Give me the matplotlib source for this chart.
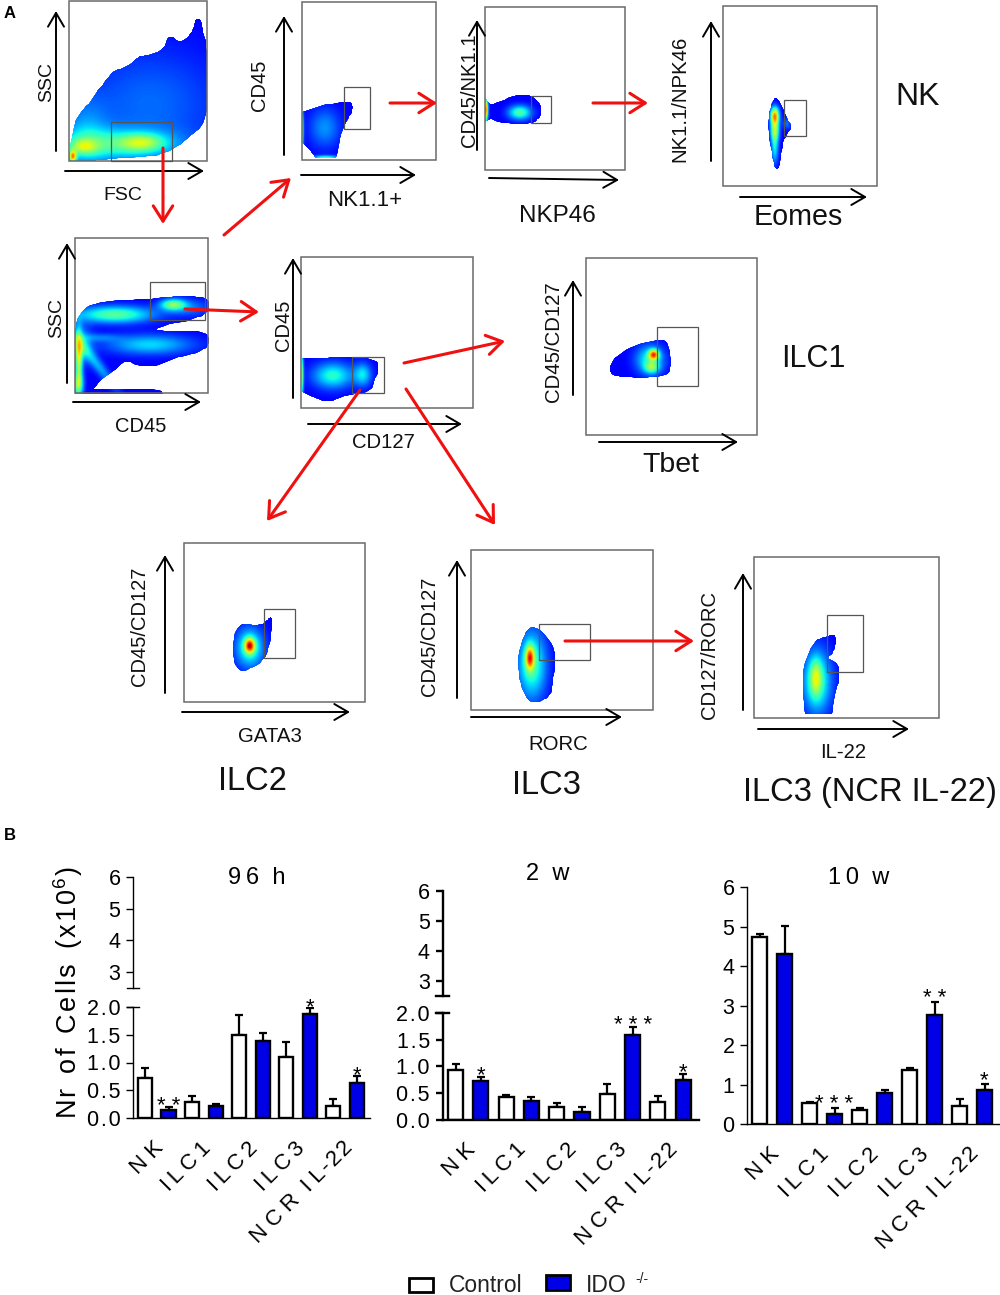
import numpy as np
import matplotlib
matplotlib.use("Agg")
import matplotlib.pyplot as plt
from matplotlib.patches import Polygon, Rectangle
from matplotlib.transforms import offset_copy

plt.rcParams['font.family'] = ['Liberation Sans', 'DejaVu Sans']
plt.rcParams['mathtext.default'] = 'regular'

W, H = 1000, 1295
BLUE = '#0000e6'
RED = '#f01010'
TS = '\u2009'
HS = '\u200a'

# bar data, panel B
groups = ['N K', f'I{TS}L{TS}C{TS}1', f'I{TS}L{TS}C{TS}2', f'I{TS}L{TS}C{TS}3', f'N C R  I L{HS}-{HS}2{HS}2']

ctrl_96h = [0.72, 0.29, 1.49, 1.10, 0.22]
ctrl_96h_sem = [0.18, 0.10, 0.37, 0.27, 0.12]
ido_96h = [0.15, 0.22, 1.38, 1.87, 0.63]
ido_96h_sem = [0.04, 0.04, 0.16, 0.11, 0.13]
stars_96h = [(1, '* *'), (7, '*'), (9, '*')]

ctrl_2w = [0.93, 0.43, 0.23, 0.48, 0.33]
ctrl_2w_sem = [0.11, 0.03, 0.08, 0.18, 0.12]
ido_2w = [0.72, 0.35, 0.14, 1.58, 0.75]
ido_2w_sem = [0.08, 0.07, 0.09, 0.15, 0.11]
stars_2w = [(1, '*'), (7, '* * *'), (9, '*')]

ctrl_10w = [4.73, 0.54, 0.35, 1.37, 0.46]
ctrl_10w_sem = [0.08, 0.03, 0.05, 0.04, 0.17]
ido_10w = [4.32, 0.26, 0.79, 2.77, 0.87]
ido_10w_sem = [0.71, 0.15, 0.06, 0.31, 0.14]
stars_10w = [(3, '* * *'), (7, '* *'), (9, '*')]

# flow plots, panel A: frame and gate as left, top, right, bottom in pixels
frames = [(69, 1, 207, 161), (302, 2, 436, 160), (485, 7, 625, 170), (723, 6, 877, 186),
          (75, 238, 208, 393), (301, 257, 473, 408), (586, 258, 757, 435),
          (184, 543, 365, 702), (471, 550, 653, 710), (754, 557, 939, 718)]
gates = [(111, 122, 172, 161), (344, 87, 370, 129), (531, 96, 551, 123), (784, 100, 806, 136),
         (150, 282, 205, 320), (352, 357, 384, 393), (657, 327, 698, 386),
         (264, 609, 295, 658), (539, 624, 590, 660), (827, 615, 863, 672)]

# outline of each population and its density peaks (x, y, sx, sy, level, angle)
blobs = [
    ([(69, 161), (69, 161), (70, 145), (74, 125), (80, 112), (90, 103), (98, 90), (103, 85), (112, 72), (120, 69),
      (128, 66), (138, 58), (140, 56), (150, 55), (163, 50), (168, 38), (172, 36), (178, 42), (188, 38),
      (194, 28), (195, 20), (198, 18), (202, 22), (203, 35), (207, 45), (207, 115), (200, 128), (190, 136),
      (175, 148), (165, 153), (145, 157), (120, 158), (100, 160), (90, 161)],
     [(73, 157, 2.5, 4, 0.5, 0), (84, 147, 9, 5, 0.2, 0), (142, 143, 15, 6, 0.24, 0), (115, 145, 44, 11, 0.24, 0),
      (150, 105, 50, 40, 0.11, 0), (85, 135, 16, 25, 0.13, 0)]),
    ([(302, 112), (302, 112), (313, 108), (325, 105), (345, 101), (352, 103), (353, 110), (347, 120), (340, 135),
      (336, 158), (336, 158), (316, 158), (316, 158), (310, 150), (302, 142), (302, 142)],
     [(325, 128, 11, 14, 0.15, 0), (302, 130, 1.2, 16, 0.4, 0), (326, 158, 9, 1.5, 0.3, 0)]),
    ([(485, 98), (485, 98), (490, 105), (500, 102), (513, 96), (527, 94), (535, 99), (541, 105), (541, 115), (535, 122),
      (525, 124), (500, 123), (490, 118), (485, 122), (485, 122)],
     [(520, 113, 8, 5, 0.33, 0), (486, 110, 1.5, 8, 0.7, 0)]),
    ([(775, 96), (768, 115), (769, 140), (773, 158), (775, 169), (779, 169), (780, 160), (783, 142), (786, 135),
      (792, 127), (786, 117), (783, 108), (778, 100)],
     [(775, 116, 3, 6, 0.6, 0), (775, 131, 3, 8, 0.42, 0), (775, 150, 2.5, 10, 0.22, 0), (787, 124, 3, 4, 0.12, 0)]),
    ([(75, 394), (75, 394), (75, 325), (80, 313), (90, 305), (105, 301), (150, 299), (175, 296), (195, 296), (209, 299),
      (209, 313), (190, 320), (165, 325), (153, 330), (170, 331), (200, 331), (209, 335), (209, 345), (200, 352),
      (175, 358), (155, 366), (140, 366), (125, 360), (115, 370), (100, 380), (94, 389), (94, 389), (160, 389),
      (163, 394), (163, 394)],
     [(115, 315, 27, 6, 0.34, 0), (173, 305, 9, 4, 0.35, 0), (150, 345, 30, 7, 0.22, 0), (190, 308, 15, 6, 0.12, 0),
      (79, 360, 2.5, 20, 0.4, 0), (80, 345, 8, 13, 0.2, 0), (78, 385, 4, 8, 0.3, 0),
      (95, 362, 24, 4, 0.18, -52), (100, 338, 14, 3, 0.1, 0)]),
    ([(302, 358), (302, 358), (320, 358), (340, 357), (360, 357), (375, 360), (379, 366), (375, 380), (370, 392),
      (345, 395), (330, 402), (320, 400), (310, 395), (302, 392), (302, 392)],
     [(333, 376, 14, 9, 0.28, 0), (363, 375, 6, 8, 0.22, 0), (302, 375, 1.2, 16, 0.4, 0)]),
    ([(609, 368), (613, 360), (627, 348), (647, 342), (665, 339), (670, 350), (671, 367), (667, 375), (647, 378),
      (623, 377), (612, 375)],
     [(654, 355, 3.5, 3.5, 0.55, 0), (652, 368, 5, 4, 0.25, 0), (650, 360, 10, 10, 0.27, 0)]),
    ([(238, 623), (255, 625), (264, 624), (270, 617), (272, 618), (271, 640), (264, 660), (252, 668), (238, 672),
      (231, 650)],
     [(250, 646, 3.5, 5, 0.55, 0), (250, 648, 10, 14, 0.3, 0)]),
    ([(529, 627), (539, 628), (553, 645), (556, 660), (553, 680), (551, 695), (539, 702), (528, 702), (519, 680),
      (518, 655), (522, 640)],
     [(530, 658, 3, 8, 0.5, 0), (532, 665, 10, 24, 0.32, 0)]),
    ([(832, 634), (836, 637), (835, 650), (826, 660), (824, 657), (838, 663), (840, 680), (835, 690), (832, 714),
      (832, 714), (805, 714), (805, 714), (802, 680), (805, 660), (815, 640), (823, 638)],
     [(816, 678, 4, 12, 0.22, 0), (817, 682, 10, 22, 0.32, 0)]),
]

# (x0, y0, x1, y1) of the axis arrows and gating arrows
axis_arrows = [(56, 151, 56, 11), (65, 171, 204, 171), (284, 155, 284, 16), (301, 175, 416, 175),
               (477, 150, 477, 20), (489, 178, 619, 180), (711, 161, 711, 21), (740, 197, 867, 197),
               (67, 383, 67, 243), (73, 402, 201, 402), (293, 398, 293, 258), (308, 424, 462, 424),
               (573, 395, 573, 280), (599, 442, 738, 442), (165, 693, 165, 555), (182, 712, 350, 712),
               (457, 698, 457, 560), (471, 717, 622, 717), (743, 710, 743, 573), (758, 729, 909, 729)]
red_arrows = [(163, 148, 163, 224), (224, 235, 291, 178), (390, 103, 437, 103), (593, 103, 648, 103),
              (185, 309, 259, 312), (404, 363, 505, 341), (360, 390, 267, 521), (406, 389, 495, 525),
              (565, 641, 694, 641)]

# text, x, y, size, rotation
labels = [('SSC', 45, 82, 14, 90), ('FSC', 123, 193, 14, 0), ('CD45', 258, 85, 14.5, 90),
          ('NK1.1+', 365, 198, 16, 0), ('CD45/NK1.1', 468, 90, 14.6, 90), ('NKP46', 557, 214, 17.5, 0),
          ('NK1.1/NPK46', 678, 99, 14.7, 90), ('Eomes', 798, 215, 20.6, 0), ('NK', 918, 95, 23, 0),
          ('SSC', 55, 318, 14, 90), ('CD45', 141, 425, 14.5, 0), ('CD45', 282, 325, 14.5, 90),
          ('CD127', 383, 440, 14.6, 0), ('CD45/CD127', 551, 342, 14.7, 90), ('Tbet', 671, 463, 20.5, 0),
          ('ILC1', 813, 357, 22, 0), ('CD45/CD127', 137, 626, 14.5, 90), ('GATA3', 270, 735, 14.7, 0),
          ('ILC2', 252, 780, 23.5, 0), ('CD45/CD127', 427, 636, 14.5, 90), ('RORC', 558, 743, 14.7, 0),
          ('ILC3', 546, 783, 23.5, 0), ('CD127/RORC', 707, 655, 14.6, 90), ('IL-22', 843, 751, 14.6, 0),
          ('ILC3 (NCR IL-22)', 870, 790, 23.5, 0)]


def smooth(points, rounds=2):
    # corner cutting so the hand read outlines do not look like polygons
    p = np.array(points, dtype=float)
    for _ in range(rounds):
        q = np.roll(p, -1, axis=0)
        p = np.column_stack([0.75 * p + 0.25 * q, 0.25 * p + 0.75 * q]).reshape(-1, 2)
    return p


def draw_blob(ax, outline, peaks):
    pts = smooth(outline)
    x = np.arange(pts[:, 0].min() - 2, pts[:, 0].max() + 3)
    y = np.arange(pts[:, 1].min() - 2, pts[:, 1].max() + 3)
    X, Y = np.meshgrid(x, y)
    Z = np.full(X.shape, 0.12)
    for cx, cy, sx, sy, level, angle in peaks:
        a = np.radians(angle)
        u = (X - cx) * np.cos(a) - (Y - cy) * np.sin(a)
        v = (X - cx) * np.sin(a) + (Y - cy) * np.cos(a)
        Z += level * np.exp(-0.5 * ((u / sx) ** 2 + (v / sy) ** 2))
    patch = Polygon(pts, closed=True, fc='none', ec='none')
    ax.add_patch(patch)
    mesh = ax.pcolormesh(X, Y, Z, cmap='jet', vmin=0, vmax=1, shading='gouraud', zorder=1)
    mesh.set_clip_path(patch)


def px_axes(left, top, right, bottom):
    a = fig.add_axes([left / W, 1 - bottom / H, (right - left) / W, (bottom - top) / H])
    a.patch.set_alpha(0)
    for s in ['top', 'right']:
        a.spines[s].set_visible(False)
    return a


def bar_panel(ax, ctrl, ctrl_sem, ido, ido_sem, stars, first, step, lw, star_px):
    vals = np.ravel(np.column_stack([ctrl, ido]))
    sems = np.ravel(np.column_stack([ctrl_sem, ido_sem]))
    xs = np.arange(10)
    colors = ['white', BLUE] * 5
    left, right = ax.get_position().x0 * W, ax.get_position().x1 * W
    ax.set_xlim((left - first) / step, (right - first) / step)
    ax.bar(xs, vals, width=0.6, color=colors, edgecolor='black', linewidth=1.7, zorder=2)
    ax.errorbar(xs, vals, yerr=[np.zeros(10), sems], fmt='none', ecolor='black',
                elinewidth=1.6, capsize=3, capthick=1.6, zorder=1)
    for i, s in stars:
        ax.annotate(s, (i, vals[i] + sems[i]), xytext=(0, star_px * 0.72), textcoords='offset points',
                    ha='center', va='baseline', fontsize=16)
    ax.set_xticks(np.arange(5) * 2 + 0.5)
    ax.set_xticklabels([])
    tf = offset_copy(ax.get_xaxis_transform(), fig=fig, x=4, y=-27, units='dots')
    for x, g in zip(ax.get_xticks(), groups):
        ax.text(x, 0, g, transform=tf, rotation=45, ha='right', va='center',
                rotation_mode='anchor', fontsize=16)
    ax.tick_params(axis='x', length=0)
    ax.tick_params(axis='y', length=5, width=lw, labelsize=15.5, pad=4)
    for s in ['left', 'bottom']:
        ax.spines[s].set_linewidth(lw)


def broken_top(ax, lw):
    ax.set_ylim(2.5, 6)
    ax.set_yticks([3, 4, 5, 6])
    ax.set_xticks([])
    ax.spines['bottom'].set_visible(False)
    ax.spines['left'].set_linewidth(lw)
    ax.tick_params(axis='y', length=5, width=lw, labelsize=15.5, pad=4)


def cap_line(ax, y, lw, half=0.025):
    ax.plot([-half, half], [y, y], transform=ax.get_yaxis_transform(), color='black', lw=lw, clip_on=False)


fig = plt.figure(figsize=(W / 100, H / 100), dpi=100, facecolor='white')
page = fig.add_axes([0, 0, 1, 1])
page.set_xlim(0, W)
page.set_ylim(H, 0)
page.axis('off')

for outline, peaks in blobs:
    draw_blob(page, outline, peaks)

for l, t, r, b in frames:
    page.add_patch(Rectangle((l, t), r - l, b - t, fc='none', ec='#6a6a6a', lw=1.1, zorder=3))
for l, t, r, b in gates:
    page.add_patch(Rectangle((l, t), r - l, b - t, fc='none', ec='#555555', lw=0.9, zorder=3))

for x0, y0, x1, y1 in axis_arrows:
    page.annotate('', xy=(x1, y1), xytext=(x0, y0), zorder=4,
                  arrowprops=dict(arrowstyle='->,head_length=0.55,head_width=0.32', color='black', lw=1.4,
                                  shrinkA=0, shrinkB=0, mutation_scale=18))
for x0, y0, x1, y1 in red_arrows:
    page.annotate('', xy=(x1, y1), xytext=(x0, y0), zorder=5,
                  arrowprops=dict(arrowstyle='->,head_length=0.55,head_width=0.35', color=RED, lw=2.2,
                                  shrinkA=0, shrinkB=0, mutation_scale=20))

for text, x, y, size, rot in labels:
    page.text(x + (2 if rot else 0), y + (0 if rot else 2), text, fontsize=size, rotation=rot,
              ha='center', va='center', color='#111111')

page.text(10, 13, 'A', fontsize=12, fontweight='bold', ha='center', va='center')
page.text(10, 836, 'B', fontsize=12, fontweight='bold', ha='center', va='center')

low_ticks = [f'0{HS}.{HS}0', f'0{HS}.{HS}5', f'1{HS}.{HS}0', f'1{HS}.{HS}5', f'2{HS}.{HS}0']

# 96 h
low = px_axes(133, 1007, 370, 1118)
low.set_ylim(0, 2)
low.set_yticks([0, 0.5, 1, 1.5, 2], low_ticks)
bar_panel(low, ctrl_96h, ctrl_96h_sem, ido_96h, ido_96h_sem, stars_96h, 145, 23.55, 1.0, -5)
top = px_axes(133, 877, 370, 988)
broken_top(top, 1.0)
cap_line(top, 2.5, 1.0)
cap_line(low, 2.0, 1.0)

# 2 w
low = px_axes(442.5, 1013, 699, 1119.5)
low.set_ylim(0, 2)
low.set_yticks([0, 0.5, 1, 1.5, 2], low_ticks)
bar_panel(low, ctrl_2w, ctrl_2w_sem, ido_2w, ido_2w_sem, stars_2w, 455.5, 25.3, 1.7, -4)
top = px_axes(442.5, 891, 699, 996)
broken_top(top, 1.7)
cap_line(top, 2.5, 1.7)
cap_line(low, 2.0, 1.7)

# 10 w
ax10 = px_axes(747, 887.3, 999, 1124)
ax10.set_ylim(0, 6)
ax10.set_yticks(range(7))
bar_panel(ax10, ctrl_10w, ctrl_10w_sem, ido_10w, ido_10w_sem, stars_10w, 759.5, 25, 1.0, -2)

page.text(257, 878, f'9{TS}6  h', fontsize=17, ha='center', va='center')
page.text(548, 874, '2  w', fontsize=17, ha='center', va='center')
page.text(859, 878, f'1{TS}0  w', fontsize=17, ha='center', va='center')

ylab = HS.join('Nr') + '  ' + HS.join('of') + '  ' + HS.join('Cells') + '  ' + HS.join('(x10') + '$^{6}$' + HS + ')'
page.text(68, 992, ylab, fontsize=19.5, rotation=90, ha='center', va='center')

# legend
page.add_patch(Rectangle((409, 1278), 24, 14, fc='white', ec='black', lw=2))
page.add_patch(Rectangle((546, 1275), 24, 15, fc=BLUE, ec='black', lw=2))
page.text(486, 1285, 'Control', fontsize=16.5, ha='center', va='center', color='#222222')
page.text(606, 1286, 'IDO', fontsize=16.5, ha='center', va='center', color='#222222')
page.text(642, 1279, '-/-', fontsize=10, ha='center', va='center', color='#222222')

fig.savefig('out.png', dpi=100)
